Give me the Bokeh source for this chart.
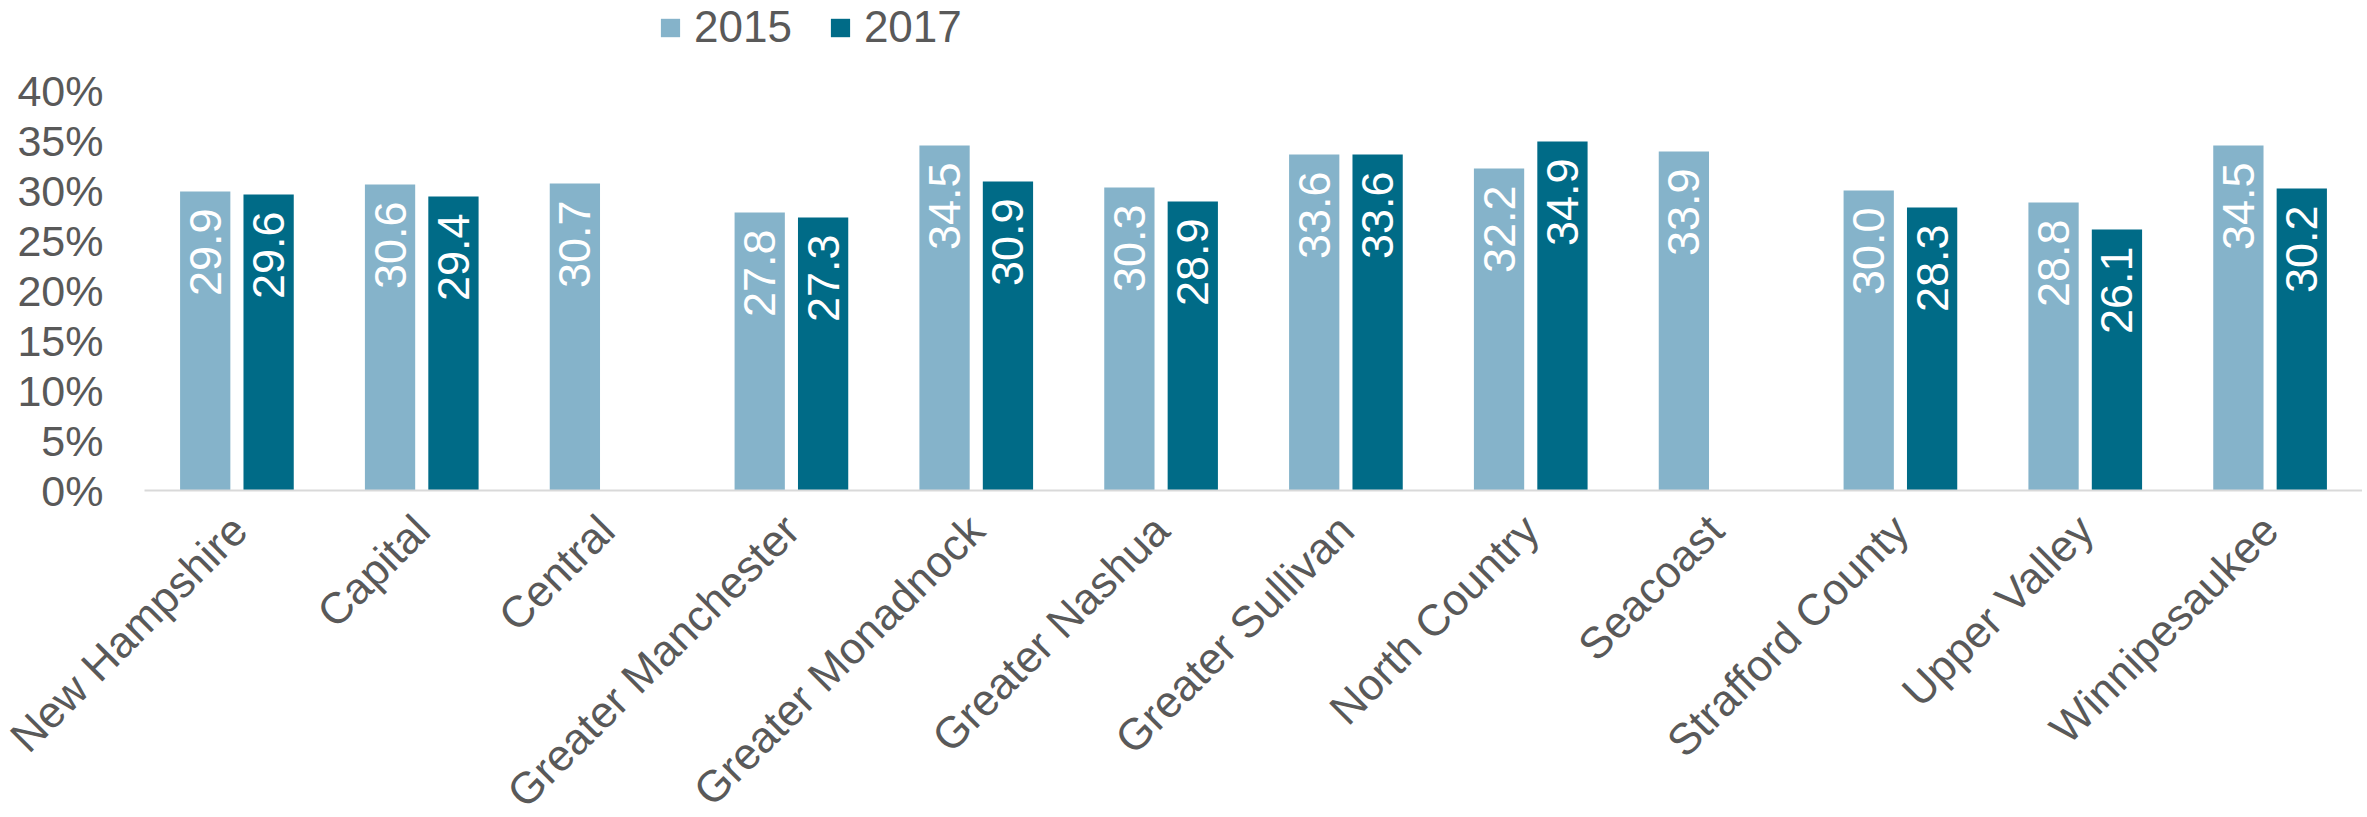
import math
from bokeh.plotting import figure
from bokeh.models import (ColumnDataSource, Range1d, FixedTicker, PrintfTickFormatter,
                          Legend, LegendItem)
from bokeh.transform import dodge
from bokeh.core.properties import value
from bokeh.embed import file_html
from bokeh.resources import INLINE

categories = ["New Hampshire", "Capital", "Central", "Greater Manchester", "Greater Monadnock",
              "Greater Nashua", "Greater Sullivan", "North Country", "Seacoast",
              "Strafford County", "Upper Valley", "Winnipesaukee"]
values_2015 = [29.9, 30.6, 30.7, 27.8, 34.5, 30.3, 33.6, 32.2, 33.9, 30.0, 28.8, 34.5]
values_2017 = [29.6, 29.4, None, 27.3, 30.9, 28.9, 33.6, 34.9, None, 28.3, 26.1, 30.2]
series_names = ["2015", "2017"]
y_ticks = [0, 5, 10, 15, 20, 25, 30, 35, 40]

C15 = "#85B3CA"
C17 = "#006B87"
GRAY = "#595959"
FONT = "Liberation Sans"

positions = list(range(len(categories)))

def make_source(vals):
    xs = [i for i, v in zip(positions, vals) if v is not None]
    vs = [v for v in vals if v is not None]
    return ColumnDataSource(dict(x=xs, val=vs, lab=[f"{v:.1f}" for v in vs]))

s15 = make_source(values_2015)
s17 = make_source(values_2017)

Wd, H = 2362, 817
PLOT_LEFT = 144          # where the plotting area starts (px)
AXIS_Y = 490             # where the value 0 sits (px)
PX_PER_UNIT = 10.0
n = len(categories)
pitch = (Wd - PLOT_LEFT) / n
x_start = -0.5 - PLOT_LEFT / pitch

p = figure(width=Wd, height=H,
           x_range=Range1d(x_start, n - 0.5),
           y_range=Range1d(-(H - AXIS_Y) / PX_PER_UNIT, AXIS_Y / PX_PER_UNIT),
           output_backend="svg", toolbar_location=None,
           min_border_left=0, min_border_right=0, min_border_top=0, min_border_bottom=0)

OFF = 0.1715
W = 0.272
r15 = p.vbar(x=dodge("x", -OFF), top="val", bottom=0, width=W, source=s15,
             fill_color=C15, line_color=None)
r17 = p.vbar(x=dodge("x", OFF), top="val", bottom=0, width=W, source=s17,
             fill_color=C17, line_color=None)

for src, off in ((s15, -OFF), (s17, OFF)):
    p.text(x=dodge("x", off), y="val", text="lab", source=src,
           angle=math.pi / 2, text_align="right", text_baseline="middle",
           y_offset=17, text_color="white", text_font=value(FONT),
           text_font_size="45px")

legend = Legend(items=[LegendItem(label=series_names[0], renderers=[r15]),
                       LegendItem(label=series_names[1], renderers=[r17])],
                orientation="horizontal", location=(658, H - 52),
                glyph_width=24, glyph_height=23, label_standoff=12, spacing=36,
                padding=0, margin=0, border_line_color=None, background_fill_alpha=0,
                label_text_font=FONT, label_text_font_size="44px", label_text_color=GRAY)
p.add_layout(legend)

p.xgrid.visible = False
p.ygrid.visible = False
p.outline_line_color = None

p.xaxis.fixed_location = 0
p.xaxis.bounds = (-0.5, n - 0.5)
p.xaxis.ticker = FixedTicker(ticks=positions)
p.xaxis.major_label_overrides = {i: c for i, c in zip(positions, categories)}
p.xaxis.axis_line_color = "#D9D9D9"
p.xaxis.axis_line_width = 2
p.xaxis.major_tick_line_color = None
p.xaxis.minor_tick_line_color = None
p.xaxis.major_tick_out = 0
p.xaxis.major_tick_in = 0
p.xaxis.major_label_standoff = 32
p.xaxis.major_label_orientation = math.pi / 4
p.xaxis.major_label_text_font = FONT
p.xaxis.major_label_text_font_size = "44px"
p.xaxis.major_label_text_color = GRAY

p.yaxis.fixed_location = -0.5
p.yaxis.ticker = FixedTicker(ticks=y_ticks)
p.yaxis.formatter = PrintfTickFormatter(format="%d%%")
p.yaxis.axis_line_color = None
p.yaxis.major_tick_line_color = None
p.yaxis.minor_tick_line_color = None
p.yaxis.major_tick_out = 0
p.yaxis.major_tick_in = 0
p.yaxis.major_label_standoff = 41
p.yaxis.major_label_text_font = FONT
p.yaxis.major_label_text_font_size = "43px"
p.yaxis.major_label_text_color = GRAY

open("out.html", "w").write(file_html(p, INLINE))
